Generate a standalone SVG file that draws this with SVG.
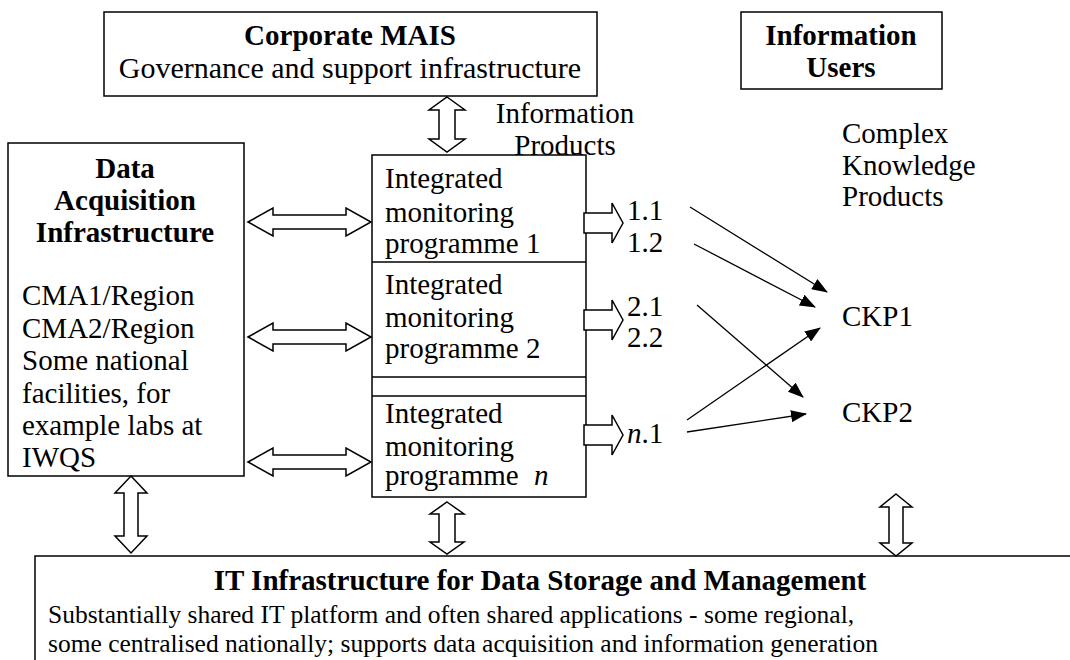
<svg xmlns="http://www.w3.org/2000/svg" width="1070" height="660" viewBox="0 0 1070 660">
<defs>
<marker id="ah" markerWidth="16" markerHeight="12" refX="15" refY="6" orient="auto" markerUnits="userSpaceOnUse">
<path d="M0,0 L16,6 L0,12 Z" fill="#000"/>
</marker>
<path id="harrow" fill="#fff" stroke="#000" stroke-width="1.5" d="M0,0 L25,-14 L25,-7 L98,-7 L98,-14 L123,0 L98,14 L98,7 L25,7 L25,14 Z"/>
<path id="parrow" fill="#fff" stroke="#000" stroke-width="1.5" d="M0,-10 L28,-10 L28,-20 L39,0 L28,20 L28,10 L0,10 Z"/>
</defs>
<rect width="1070" height="660" fill="#fff"/>

<g id="corporate-mais">
<rect fill="#fff" stroke="#000" stroke-width="1.5" x="104" y="12" width="493" height="84"/>
<text font-family="Liberation Serif" font-size="29" font-weight="bold" x="350" y="45" text-anchor="middle">Corporate MAIS</text>
<text font-family="Liberation Serif" font-size="30" x="350" y="78" text-anchor="middle">Governance and support infrastructure</text>
</g>

<g id="information-users">
<rect fill="#fff" stroke="#000" stroke-width="1.5" x="741" y="12" width="201" height="77"/>
<text font-family="Liberation Serif" font-size="29" font-weight="bold" x="841" y="45" text-anchor="middle">Information</text>
<text font-family="Liberation Serif" font-size="29" font-weight="bold" x="841" y="77" text-anchor="middle">Users</text>
</g>

<g id="information-products-label">
<text font-family="Liberation Serif" font-size="29" x="565" y="123" text-anchor="middle">Information</text>
<text font-family="Liberation Serif" font-size="29" x="565" y="155" text-anchor="middle">Products</text>
</g>

<g id="ckp-label">
<text font-family="Liberation Serif" font-size="29" x="842" y="143">Complex</text>
<text font-family="Liberation Serif" font-size="29" x="842" y="175">Knowledge</text>
<text font-family="Liberation Serif" font-size="29" x="842" y="206">Products</text>
</g>

<g id="data-acquisition">
<rect fill="#fff" stroke="#000" stroke-width="1.5" x="8" y="143" width="236" height="333"/>
<text font-family="Liberation Serif" font-size="29" font-weight="bold" x="125" y="178" text-anchor="middle">Data</text>
<text font-family="Liberation Serif" font-size="29" font-weight="bold" x="125" y="210" text-anchor="middle">Acquisition</text>
<text font-family="Liberation Serif" font-size="29" font-weight="bold" x="125" y="242" text-anchor="middle">Infrastructure</text>
<text font-family="Liberation Serif" font-size="29" x="22" y="305">CMA1/Region</text>
<text font-family="Liberation Serif" font-size="29" x="22" y="338">CMA2/Region</text>
<text font-family="Liberation Serif" font-size="29" x="22" y="370">Some national</text>
<text font-family="Liberation Serif" font-size="29" x="22" y="403">facilities, for</text>
<text font-family="Liberation Serif" font-size="29" x="22" y="435">example labs at</text>
<text font-family="Liberation Serif" font-size="29" x="22" y="467">IWQS</text>
</g>

<g id="monitoring-programmes">
<rect fill="#fff" stroke="#000" stroke-width="1.5" x="372" y="155" width="214" height="342"/>
<line stroke="#000" stroke-width="1.3" x1="372" y1="262" x2="586" y2="262"/>
<line stroke="#000" stroke-width="1.3" x1="372" y1="377" x2="586" y2="377"/>
<line stroke="#000" stroke-width="1.3" x1="372" y1="396" x2="586" y2="396"/>
<text font-family="Liberation Serif" font-size="29" x="385" y="188">Integrated</text>
<text font-family="Liberation Serif" font-size="29" x="385" y="222">monitoring</text>
<text font-family="Liberation Serif" font-size="29" x="385" y="253">programme 1</text>
<text font-family="Liberation Serif" font-size="29" x="385" y="294">Integrated</text>
<text font-family="Liberation Serif" font-size="29" x="385" y="327">monitoring</text>
<text font-family="Liberation Serif" font-size="29" x="385" y="358">programme 2</text>
<text font-family="Liberation Serif" font-size="29" x="385" y="423">Integrated</text>
<text font-family="Liberation Serif" font-size="29" x="385" y="456">monitoring</text>
<text font-family="Liberation Serif" font-size="29" x="385" y="485">programme <tspan font-style="italic" dx="8">n</tspan></text>
</g>

<g id="products">
<text font-family="Liberation Serif" font-size="29" x="627" y="220">1.1</text>
<text font-family="Liberation Serif" font-size="29" x="627" y="252">1.2</text>
<text font-family="Liberation Serif" font-size="29" x="627" y="316">2.1</text>
<text font-family="Liberation Serif" font-size="29" x="627" y="347">2.2</text>
<text font-family="Liberation Serif" font-size="29" x="627" y="443"><tspan font-style="italic">n</tspan>.1</text>
</g>

<g id="ckp1"><text font-family="Liberation Serif" font-size="29" x="842" y="326">CKP1</text></g>
<g id="ckp2"><text font-family="Liberation Serif" font-size="29" x="842" y="422">CKP2</text></g>

<g id="it-infrastructure">
<rect fill="#fff" stroke="#000" stroke-width="1.5" x="35" y="556" width="1100" height="200"/>
<text font-family="Liberation Serif" font-size="29" font-weight="bold" x="540" y="590" text-anchor="middle">IT Infrastructure for Data Storage and Management</text>
<text font-family="Liberation Serif" font-size="25.5" x="48" y="623">Substantially shared IT platform and often shared applications - some regional,</text>
<text font-family="Liberation Serif" font-size="25.5" x="48" y="652">some centralised nationally; supports data acquisition and information generation</text>
</g>

<g id="connectors" fill="#fff" stroke="#000" stroke-width="1.5">
<use href="#harrow" x="248" y="222"/>
<use href="#harrow" x="248" y="337"/>
<use href="#harrow" x="248" y="462"/>
<use href="#parrow" x="584" y="223"/>
<use href="#parrow" x="584" y="320"/>
<use href="#parrow" x="584" y="435"/>
<path d="M447,97 L465,110 L455,110 L455,139 L465,139 L447,152 L429,139 L439,139 L439,110 L429,110 Z"/>
<path d="M447,502 L464,514 L455,514 L455,542 L464,542 L447,554 L430,542 L439,542 L439,514 L430,514 Z"/>
<path d="M131,476 L147,493 L138,493 L138,536 L147,536 L131,553 L115,536 L124,536 L124,493 L115,493 Z"/>
<path d="M896,494 L912,507 L903,507 L903,543 L912,543 L896,556 L880,543 L889,543 L889,507 L880,507 Z"/>
<g fill="none" stroke-width="1.3">
<line x1="690" y1="207" x2="827" y2="292" marker-end="url(#ah)"/>
<line x1="694" y1="244" x2="815" y2="307" marker-end="url(#ah)"/>
<line x1="697" y1="305" x2="803" y2="397" marker-end="url(#ah)"/>
<line x1="687" y1="420" x2="820" y2="328" marker-end="url(#ah)"/>
<line x1="687" y1="432" x2="806" y2="414" marker-end="url(#ah)"/>
</g>
</g>
</svg>
